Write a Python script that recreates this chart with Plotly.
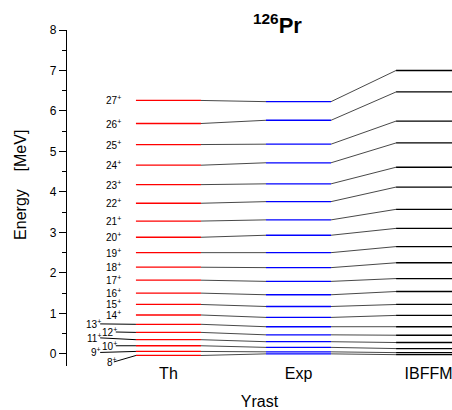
import plotly.graph_objects as go

# ---------------- data ----------------
spins = list(range(8, 28))
th_energy = [-0.04, 0.06, 0.20, 0.35, 0.53, 0.73, 0.96, 1.22, 1.50, 1.82,
             2.14, 2.50, 2.88, 3.28, 3.72, 4.18, 4.66, 5.17, 5.69, 6.26]
exp_energy = [0.00, 0.05, 0.16, 0.30, 0.47, 0.67, 0.90, 1.17, 1.46, 1.79,
              2.13, 2.50, 2.93, 3.31, 3.76, 4.20, 4.72, 5.18, 5.77, 6.23]
ibffm_energy = [-0.02, 0.03, 0.13, 0.28, 0.46, 0.67, 0.95, 1.22, 1.54, 1.86,
                2.25, 2.65, 3.10, 3.57, 4.12, 4.61, 5.21, 5.75, 6.47, 7.00]
columns = ["Th", "Exp", "IBFFM"]
y_ticks = [0, 1, 2, 3, 4, 5, 6, 7, 8]

# ------------- layout constants -------------
col_start = [0.0, 2.0, 4.0]   # left edge of each column (x units)
col_width = 1.0
# label placement for the crowded low-spin labels (MeV positions of label text)
low_label_y = {8: -0.20, 9: 0.035, 10: 0.20, 11: 0.395, 12: 0.54, 13: 0.74}
FONT = "Liberation Sans, Arial, sans-serif"

def level_xy(values, start):
    xs, ys = [], []
    for v in values:
        xs += [start, start + col_width, None]
        ys += [v, v, None]
    return xs, ys

def connector_xy(a, b, x0, x1):
    xs, ys = [], []
    for va, vb in zip(a, b):
        xs += [x0, x1, None]
        ys += [va, vb, None]
    return xs, ys

fig = go.Figure()

# connectors
cx1, cy1 = connector_xy(th_energy, exp_energy, col_start[0] + col_width, col_start[1])
cx2, cy2 = connector_xy(exp_energy, ibffm_energy, col_start[1] + col_width, col_start[2])
fig.add_trace(go.Scatter(x=cx1 + cx2, y=cy1 + cy2, mode="lines",
                         line=dict(color="#333333", width=0.9),
                         hoverinfo="skip", showlegend=False))

# levels
for vals, start, color in [(th_energy, col_start[0], "#ff0000"),
                           (exp_energy, col_start[1], "#0000ff"),
                           (ibffm_energy, col_start[2], "#000000")]:
    xs, ys = level_xy(vals, start)
    fig.add_trace(go.Scatter(x=xs, y=ys, mode="lines",
                             line=dict(color=color, width=1.3),
                             hoverinfo="skip", showlegend=False))

# leader lines for low-spin labels + labels
lx, ly = [], []
annotations = []
for s, e in zip(spins, th_energy):
    if s in low_label_y:
        yl = low_label_y[s]
        if s % 2 == 1:
            x_text, x_line = -0.51, -0.55
        else:
            x_text, x_line = -0.26, -0.31
            if s == 8:
                x_line = -0.34
        lx += [x_line, col_start[0], None]
        ly += [yl, e, None]
    else:
        yl = e
        x_text = -0.2
    annotations.append(dict(x=x_text, y=yl, xref="x", yref="y",
                            text=f"{s}<sup>+</sup>", showarrow=False,
                            xanchor="right", yanchor="middle",
                            font=dict(family=FONT, size=10, color="black")))
fig.add_trace(go.Scatter(x=lx, y=ly, mode="lines",
                         line=dict(color="black", width=1),
                         hoverinfo="skip", showlegend=False))

# title
annotations.append(dict(x=0.548, y=1.0, xref="paper", yref="paper",
                        text="<b><sup>126</sup>Pr</b>", showarrow=False,
                        xanchor="center", yanchor="bottom", yshift=-10,
                        font=dict(family=FONT, size=22, color="black")))
# y-axis title
annotations.append(dict(x=0, y=0.539, xref="paper", yref="paper",
                        text="Energy\u00a0\u00a0\u00a0\u00a0[MeV]", showarrow=False,
                        textangle=-90, xanchor="center", yanchor="middle",
                        xshift=-46,
                        font=dict(family=FONT, size=16, color="black")))

fig.update_layout(
    width=452, height=410,
    margin=dict(l=67, r=0, t=30, b=44),
    paper_bgcolor="white", plot_bgcolor="white",
    font=dict(family=FONT, color="black"),
    annotations=annotations,
    xaxis=dict(range=[-1.06, 4.86], showgrid=False, zeroline=False,
               showline=False, ticks="",
               tickvals=[s + col_width / 2 for s in col_start],
               ticktext=columns, tickfont=dict(size=16),
               ticklabeloverflow="allow", ticklabelstandoff=-4,
               title=dict(text="Yrast", font=dict(size=16), standoff=15)),
    yaxis=dict(range=[-0.3, 8], showgrid=False, zeroline=False,
               showline=True, linecolor="black", linewidth=1.2,
               ticks="outside", ticklen=7, tickwidth=1.2, tickcolor="black",
               tickvals=y_ticks, tickfont=dict(size=12),
               minor=dict(ticks="outside", ticklen=4, tickwidth=1,
                          tickcolor="black", dtick=0.5)),
)

fig.write_html("out.html", config={"displayModeBar": False},
               post_script="document.body.style.margin='0';document.body.style.overflow='hidden';")
